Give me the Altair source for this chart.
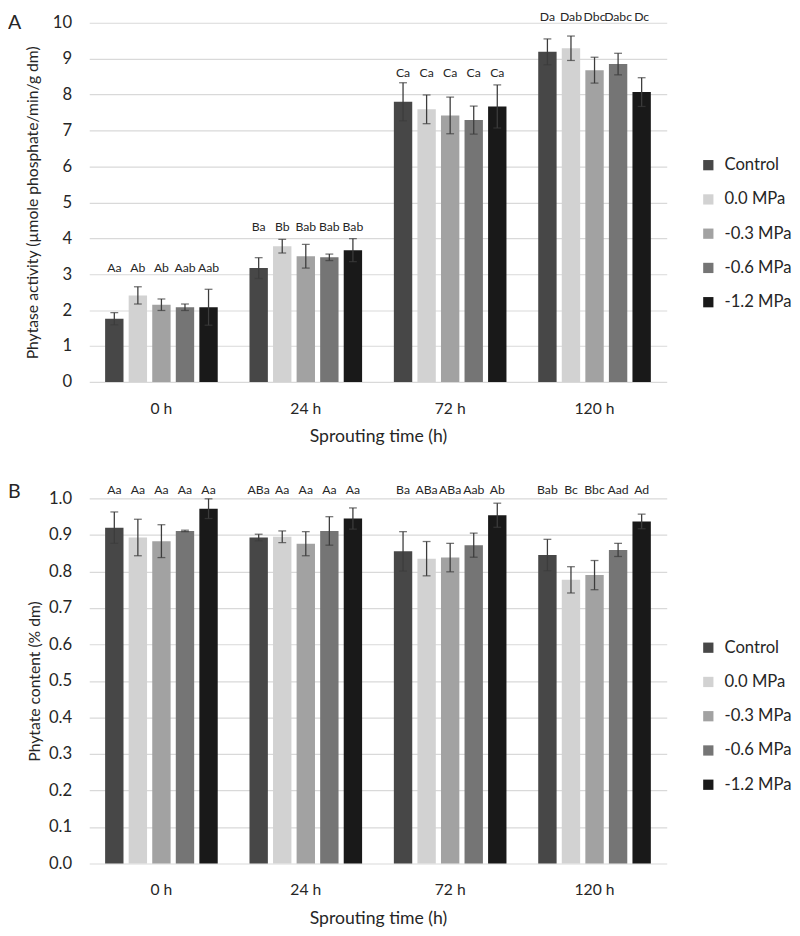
import altair as alt
import pandas as pd

groups = ["0 h", "24 h", "72 h", "120 h"]
treatments = ["Control", "0.0 MPa", "-0.3 MPa", "-0.6 MPa", "-1.2 MPa"]
colors = ["#474747", "#d2d2d2", "#a2a2a2", "#757575", "#191919"]

# Panel A: phytase activity (µmole phosphate/min/g dm)
phytase_mean = [
    [1.76, 2.41, 2.15, 2.08, 2.08],
    [3.17, 3.78, 3.50, 3.47, 3.67],
    [7.80, 7.59, 7.42, 7.29, 7.67],
    [9.19, 9.29, 8.68, 8.85, 8.07],
]
phytase_err = [
    [0.17, 0.24, 0.16, 0.09, 0.50],
    [0.29, 0.19, 0.33, 0.09, 0.32],
    [0.53, 0.40, 0.51, 0.39, 0.60],
    [0.36, 0.34, 0.36, 0.30, 0.40],
]
phytase_letters = [
    ["Aa", "Ab", "Ab", "Aab", "Aab"],
    ["Ba", "Bb", "Bab", "Bab", "Bab"],
    ["Ca", "Ca", "Ca", "Ca", "Ca"],
    ["Da", "Dab", "Dbc", "Dabc", "Dc"],
]
phytase_letter_level = [3.18, 4.30, 8.61, 10.16]

# Panel B: phytate content (% dm)
phytate_mean = [
    [0.920, 0.893, 0.883, 0.911, 0.972],
    [0.893, 0.895, 0.876, 0.911, 0.945],
    [0.855, 0.835, 0.838, 0.872, 0.954],
    [0.845, 0.777, 0.790, 0.859, 0.937],
]
phytate_err = [
    [0.043, 0.050, 0.045, 0.002, 0.027],
    [0.009, 0.016, 0.033, 0.039, 0.029],
    [0.054, 0.047, 0.039, 0.033, 0.033],
    [0.043, 0.036, 0.040, 0.018, 0.020],
]
phytate_letters = [
    ["Aa", "Aa", "Aa", "Aa", "Aa"],
    ["ABa", "Aa", "Aa", "Aa", "Aa"],
    ["Ba", "ABa", "ABa", "Aab", "Ab"],
    ["Bab", "Bc", "Bbc", "Aad", "Ad"],
]
phytate_letter_level = [1.024, 1.024, 1.024, 1.024]


def make_df(means, errs, letters, levels):
    rows = []
    for gi, g in enumerate(groups):
        for ti, t in enumerate(treatments):
            m = means[gi][ti]
            e = errs[gi][ti]
            rows.append({"time": g, "treatment": t, "mean": m, "lo": m - e,
                         "hi": m + e, "letter": letters[gi][ti],
                         "level": levels[gi]})
    return pd.DataFrame(rows)


FONT = "Lato"
TXT = "#262626"
ERR = "#3c3c3c"


def panel(df, panel_letter, ytitle, ydomain, yvalues, yformat, title_pad,
          legend_y, height, tag_y):
    x = alt.X("time:N", sort=groups,
              scale=alt.Scale(paddingInner=0.22, paddingOuter=0.11),
              axis=alt.Axis(title="Sprouting time (h)", labelAngle=0,
                            domain=False, ticks=False, labelPadding=19,
                            labelFontSize=16, titleFontSize=18,
                            titlePadding=12, grid=False))
    xo = alt.XOffset("treatment:N", sort=treatments,
                     scale=alt.Scale(paddingInner=0.22, paddingOuter=0))
    yscale = alt.Scale(domain=ydomain, nice=False, zero=True)
    yaxis = alt.Axis(title=ytitle, values=yvalues, format=yformat,
                     domain=False, ticks=False, labelPadding=18,
                     labelFontSize=17, titleFontSize=16,
                     titlePadding=title_pad, grid=True, labelOverlap=False,
                     gridColor="#d9d9d9", gridWidth=1.2)
    base = alt.Chart(df).encode(x=x, xOffset=xo)
    bars = base.mark_bar().encode(
        y=alt.Y("mean:Q", scale=yscale, axis=yaxis, title=ytitle),
        color=alt.Color("treatment:N", sort=treatments,
                        scale=alt.Scale(domain=treatments, range=colors),
                        legend=alt.Legend(title=None, orient="none",
                                          legendX=624, legendY=legend_y,
                                          symbolType="square", symbolSize=110,
                                          symbolStrokeWidth=0,
                                          labelFontSize=17, rowPadding=17,
                                          labelOffset=8, padding=0)),
    )
    rules = base.mark_rule(color=ERR, strokeWidth=1.3).encode(
        y=alt.Y("lo:Q", scale=yscale, axis=yaxis, title=ytitle), y2="hi:Q")
    cap_hi = base.mark_tick(color=ERR, size=8, thickness=1.3).encode(
        y=alt.Y("hi:Q", scale=yscale, axis=yaxis, title=ytitle))
    cap_lo = base.mark_tick(color=ERR, size=8, thickness=1.3).encode(
        y=alt.Y("lo:Q", scale=yscale, axis=yaxis, title=ytitle))
    labels = base.mark_text(fontSize=12.5, baseline="middle", color=TXT,
                            font=FONT).encode(
        y=alt.Y("level:Q", scale=yscale, axis=yaxis, title=ytitle),
        text="letter:N")
    tag = alt.Chart(pd.DataFrame({"t": [panel_letter]})).mark_text(
        align="left", baseline="middle", fontSize=20, color=TXT, font=FONT
    ).encode(text="t:N", x=alt.value(-83), y=alt.value(tag_y))
    return alt.layer(bars, rules, cap_hi, cap_lo, labels, tag).properties(
        width=590, height=height)


dfA = make_df(phytase_mean, phytase_err, phytase_letters, phytase_letter_level)
dfB = make_df(phytate_mean, phytate_err, phytate_letters, phytate_letter_level)

chartA = panel(dfA, "A", "Phytase activity (µmole phosphate/min/g dm)",
               [0, 10], list(range(0, 11)), "d", 12, 137, 367, 0)
chartB = panel(dfB, "B", "Phytate content (% dm)", [0, 1.0],
               [round(i / 10, 1) for i in range(11)], ".1f", 6, 144, 373, -6)

chart = alt.vconcat(chartA, chartB, spacing=38).resolve_scale(
    color="independent").resolve_legend(color="independent").properties(
    padding={"top": -7, "bottom": 0, "left": 0, "right": 0}
).configure(font=FONT).configure_view(stroke=None).configure_axis(
    labelColor=TXT, titleColor=TXT, titleFontWeight="normal", labelFont=FONT,
    titleFont=FONT
).configure_legend(labelColor=TXT, labelFont=FONT)

chart.save("out.html", embed_options={"renderer": "svg", "actions": False})
